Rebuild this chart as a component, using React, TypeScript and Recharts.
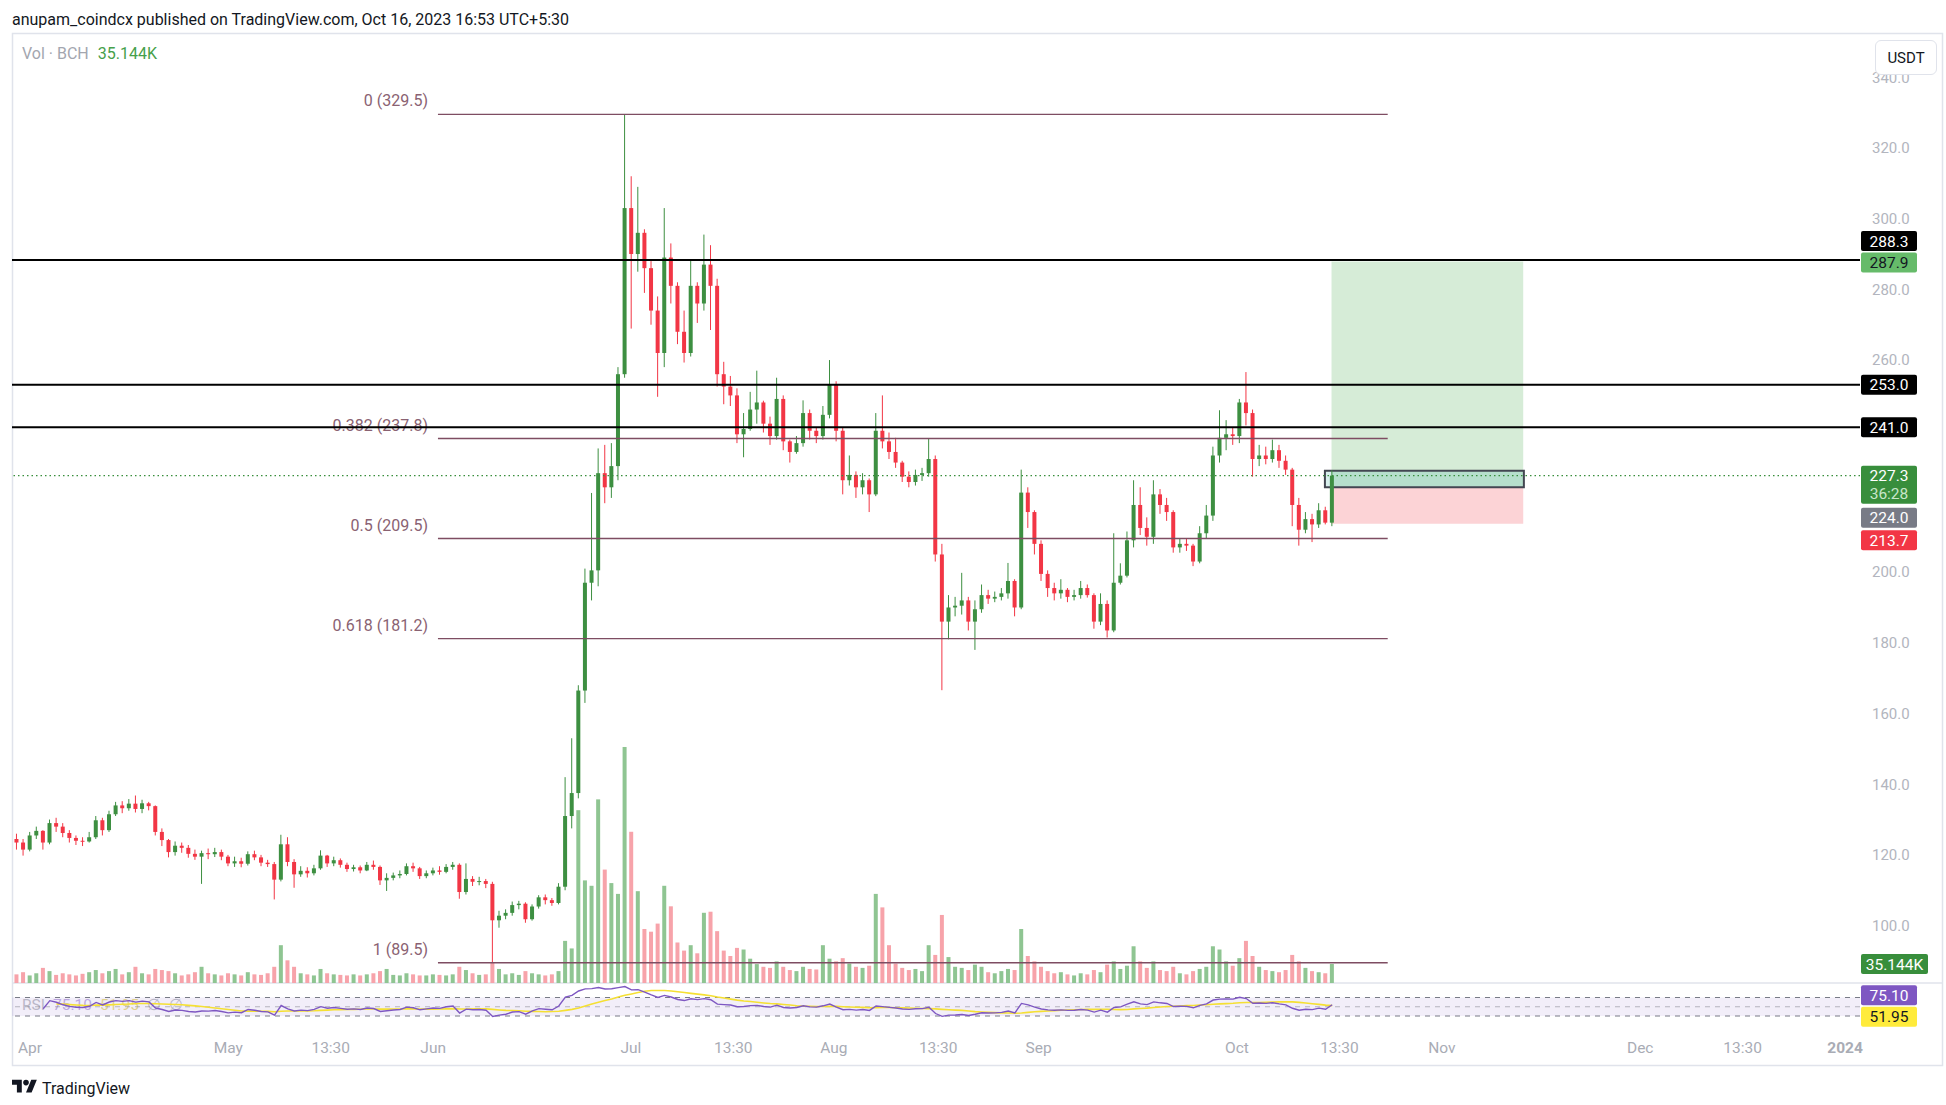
import React from "react";
import { ComposedChart, Bar, Line, XAxis, YAxis, ReferenceLine, ReferenceArea } from "recharts";

// canvas geometry (page pixels)
const W = 1946;
const PLOT_LEFT = 12;
const AXIS_W = 86;
const PRICE_TOP = 33;
const PRICE_H = 983;
const RSI_TOP = 983;
const RSI_H = 83;

const FONT = "Roboto, 'Noto Sans', Arial, sans-serif";
const UP = "#3d8f41";
const DOWN = "#f23645";
const VOL_UP = "#8fc592";
const VOL_DOWN = "#f7a3aa";
const AXIS_TEXT = "#b2b5be";
const FIB = "#7e4d62";
const FIB_TEXT = "#8a6272";

// x = day index, 0 = 1 Apr 2023
const X_DOMAIN = [-2.72, 276.85];
const PRICE_DOMAIN = [83.76, 352.53];
const VOL_DOMAIN = [0, 1759];
const RSI_DOMAIN = [-4.6, 101.4];

// ---- data: one candle per day, 30 Mar -> 16 Oct 2023 (BCH/USDT) ----
const FIRST_DAY = -2;
const FIRST_OPEN = 124.5;

const closes = [
  123.5, 121.5, 125.5, 126.8, 123.5, 129, 128, 126.2, 124.8, 124,
  123.8, 125, 129.8, 127, 131.5, 134, 133.2, 134.5, 133, 134.6,
  133.8, 126.5, 124.2, 120.8, 122.6, 122, 120.3, 119.5, 120.5, 120.2,
  120.8, 119.5, 117.6, 118.2, 117.5, 120.2, 119.3, 117.8, 117.4, 113,
  123, 118, 114.5, 115.5, 114.8, 116.2, 119.8, 117.6, 118.5, 117.2,
  116, 116.5, 115.6, 117.2, 116.6, 112.8, 113.5, 114.2, 114.6, 116.8,
  116.2, 114, 114.8, 115.6, 115.2, 116.6, 117.2, 109.5, 113.2, 112.4,
  112.6, 111.8, 101.5, 102.8, 103.6, 105.8, 106.2, 101.8, 105.4, 108,
  107.2, 106.4, 111, 131, 137.5, 166.5, 197, 200.5, 228, 224,
  230, 256, 303, 290, 296, 286, 274, 262, 289, 281,
  268, 262, 281, 276, 287, 281, 256, 252.5, 250, 239,
  240.5, 246, 248, 242, 238.5, 249, 237, 234, 236.5, 245,
  240, 238.5, 244.5, 253, 240, 226, 227.5, 224, 226, 222,
  240, 237, 234, 231, 227, 225.5, 227.5, 228, 232, 205,
  186, 190, 190.5, 192, 186, 189.5, 193.5, 192.5, 193, 194,
  197.5, 190, 222.5, 217, 208, 199.5, 195.5, 194, 195, 193,
  193.5, 195.5, 193.5, 186, 191, 183.5, 197, 199, 209, 219,
  212.5, 210, 222, 219, 217, 207, 208, 207.5, 203, 211,
  216, 233, 238, 239, 238.5, 248, 245, 232, 233, 232,
  234.5, 231.5, 229, 219, 212, 215, 213.5, 217.5, 214, 227.3,
];

const highs = [
  126, 124.5, 126.5, 128, 127, 130, 130.5, 129, 127, 125.5,
  125, 126.5, 131, 130.5, 132.5, 135, 135.2, 135.8, 136.8, 135.6,
  135, 134, 127.5, 124.5, 123.8, 123.5, 122.8, 121.5, 121.2, 121.8,
  122, 121.5, 120, 119.5, 119.2, 121, 121.2, 120, 118.6, 118,
  125.7, 125, 118.8, 116.8, 116.5, 117.2, 121.3, 120, 119.5, 119,
  117.8, 117.2, 117, 118, 118.4, 117, 114.8, 115, 115.6, 117.6,
  117.8, 116.6, 115.6, 116.4, 116.8, 117.4, 118, 117.6, 117.6, 114,
  113.8, 113.2, 112.4, 104.2, 104.6, 106.8, 107, 106.6, 106, 108.6,
  108.8, 107.8, 112, 142, 153, 168, 201, 222.4, 235, 236,
  236.5, 258, 329.5, 312, 309, 297, 288, 278, 303, 293,
  282, 274, 288.2, 282, 295.5, 292.5, 283, 259.5, 255.5, 252,
  245, 251, 257, 248.5, 244, 255, 250, 237.5, 238.5, 248.6,
  246, 241, 247, 260, 254, 241, 233, 228.5, 228, 226.5,
  245, 250, 239.5, 238, 231.5, 228.5, 229, 229.5, 237.7, 233,
  208, 193.5, 193, 199.8, 193, 192, 196.5, 195, 194.5, 195.5,
  202.6, 198, 229, 224, 217.5, 209, 200.5, 197, 198, 195.5,
  195, 197.5, 196.5, 194, 194, 192, 211, 202.5, 211.5, 226,
  224, 215.5, 226, 223.5, 221, 217.5, 209.5, 209.5, 208, 213,
  219, 235.5, 245.8, 243, 241, 249, 256.6, 246, 236, 235.5,
  237.5, 236, 233, 229.5, 221, 217, 216.5, 219.5, 218.5, 228.8,
];

const lows = [
  121.5, 119.8, 121, 124.5, 121.5, 123, 126.5, 125, 123.5, 122.8,
  122.5, 123.5, 124.5, 125.5, 126.5, 131, 131.8, 132.5, 132, 131.8,
  132.6, 125.5, 122.5, 119.3, 119.8, 120.6, 119.2, 118.6, 111.8, 118.8,
  119.4, 118.5, 116.8, 116.6, 116.5, 117, 118.5, 116.8, 116.6, 107.4,
  112.5, 116.8, 110.7, 113.8, 113.6, 114.2, 115.8, 116.6, 116.8, 116.4,
  115.2, 115.3, 114.8, 115.4, 115.8, 111.5, 109.8, 112.8, 113.4, 114.2,
  115.2, 113.2, 113.4, 114.2, 114.4, 114.8, 115.8, 107.6, 108.8, 111.2,
  111.4, 110.6, 89.5, 99.4, 101.8, 102.8, 104.6, 100.8, 101.4, 104.8,
  106, 105.6, 106, 110, 127.5, 136, 163, 192, 196, 219.5,
  221, 226, 255, 268.9, 285, 279, 270, 249.6, 258, 276,
  264.5, 259.3, 261, 270.5, 274, 268.5, 252.5, 247.5, 247, 236.5,
  232.5, 240, 242, 239.5, 236, 237.5, 234.5, 231, 233.5, 235.5,
  237.5, 236.5, 237.5, 243.5, 237, 222, 224.5, 221, 222, 217,
  221.5, 235, 232, 229.5, 225.5, 224, 224.5, 225.8, 227, 203,
  166.6, 181, 187.5, 188, 183.5, 178, 188.5, 191, 191.5, 192,
  192.5, 187.5, 189.5, 212.5, 205, 197.5, 193, 192, 192.5, 191.5,
  192, 192.5, 192.8, 184, 185, 181.5, 183, 196.5, 198.5, 207,
  210.5, 207.5, 208, 216.5, 214.5, 205.5, 205.5, 206, 201.7, 202.5,
  209.5, 214.5, 231, 234.5, 236, 236.5, 241.5, 227, 230, 230.5,
  231, 229.5, 227.5, 213, 207.5, 211, 208.5, 212.5, 213.5, 213,
];

// volume, thousands of BCH
const volumesK = [
  16, 20, 14, 18, 28, 22, 15, 18, 16, 14,
  17, 20, 24, 18, 22, 26, 16, 20, 30, 18,
  16, 26, 24, 22, 18, 14, 16, 20, 30, 18,
  16, 14, 18, 16, 14, 20, 16, 15, 18, 30,
  70, 42, 30, 18, 16, 14, 26, 18, 16, 15,
  14, 16, 14, 16, 18, 22, 26, 15, 14, 18,
  16, 14, 14, 16, 15, 14, 16, 30, 24, 18,
  15, 16, 38, 26, 16, 18, 15, 22, 18, 16,
  14, 16, 22, 78, 64, 320, 190, 180, 340, 210,
  185, 165, 437, 280, 170, 100, 95, 110, 180, 142,
  75, 60, 70, 55, 130, 132, 96, 60, 50, 65,
  62, 45, 35, 30, 28, 40, 30, 24, 22, 30,
  26, 25, 70, 45, 40, 46, 36, 30, 28, 32,
  165, 140, 70, 36, 28, 24, 26, 22, 70, 52,
  126, 48, 30, 28, 24, 34, 30, 20, 18, 22,
  26, 24, 100, 50, 40, 30, 22, 18, 20, 16,
  14, 18, 16, 24, 20, 34, 40, 26, 32, 68,
  40, 28, 40, 24, 22, 30, 18, 16, 22, 26,
  30, 68, 62, 40, 32, 46, 78, 50, 30, 24,
  22, 20, 24, 52, 40, 28, 22, 20, 18, 35.144,
];

// 220.0 and 240.0 sit under the price tags in the original, so they are not drawn
const priceTicks = [100, 120, 140, 160, 180, 200, 260, 280, 300, 320, 340];
const timeTicks = [0, 30, 45.5, 61, 90.9, 106.4, 121.6, 137.4, 152.6, 182.6, 198.1, 213.6, 243.6, 259.1, 274.6];
const timeLabels = ["Apr", "May", "13:30", "Jun", "Jul", "13:30", "Aug", "13:30", "Sep", "Oct", "13:30", "Nov", "Dec", "13:30", "2024"];

const levelPrices = [288.3, 253.0, 241.0];
const fibRatios = ["0", "0.382", "0.5", "0.618", "1"];
const fibPrices = [329.5, 237.8, 209.5, 181.2, 89.5];
const fibSpan = [61.72, 205.4];

const lastPrice = 227.3;
const entryPrice = 224.0;
const targetPrice = 287.9;
const stopPrice = 213.7;
const positionSpan = [196.9, 225.9];
const progressBox = [195.9, 226.0, 224.0, 228.7];

const rsiLast = 75.1;
const rsiMaLast = 51.95;
const lastVolK = 35.144;

// RSI(14) of the closes and its 14-bar SMA
function rsiOf(src: number[], len: number): (number | null)[] {
  const out: (number | null)[] = [];
  let ag = 0;
  let al = 0;
  for (let i = 0; i < src.length; i++) {
    const prev = i === 0 ? FIRST_OPEN : src[i - 1];
    const ch = src[i] - prev;
    const g = Math.max(ch, 0);
    const l = Math.max(-ch, 0);
    const n = Math.min(i + 1, len);
    ag = (ag * (n - 1) + g) / n;
    al = (al * (n - 1) + l) / n;
    const v = al === 0 ? 100 : 100 - 100 / (1 + ag / al);
    out.push(i < 4 ? null : v);
  }
  return out;
}
function smaOf(src: (number | null)[], len: number): (number | null)[] {
  return src.map((_, i) => {
    const win = src.slice(Math.max(0, i - len + 1), i + 1).filter((v): v is number => v != null);
    return win.length < 3 ? null : win.reduce((a, b) => a + b, 0) / win.length;
  });
}

const rsiVals = rsiOf(closes, 14);
const rsiMa = smaOf(rsiVals, 14);

const rows = closes.map((c, i) => {
  const o = i === 0 ? FIRST_OPEN : closes[i - 1];
  const h = Math.max(highs[i], o, c);
  const l = Math.min(lows[i], o, c);
  return {
    x: FIRST_DAY + i,
    o,
    c,
    h,
    l,
    range: [l, h],
    vol: volumesK[i],
    up: c >= o,
    rsi: rsiVals[i],
    ma: rsiMa[i],
  };
});

// ---- shapes ----
const Candle = (p: any) => {
  const { x, y, width, height, payload } = p;
  if (height == null || !payload) return null;
  const top = Math.min(y, y + height);
  const hh = Math.abs(height);
  const span = payload.h - payload.l;
  const k = span > 0 ? hh / span : 0;
  const bTop = top + (payload.h - Math.max(payload.o, payload.c)) * k;
  const bBot = top + (payload.h - Math.min(payload.o, payload.c)) * k;
  const col = payload.up ? UP : DOWN;
  const cx = x + width / 2;
  return (
    <g>
      <line x1={cx} x2={cx} y1={top} y2={top + hh} stroke={col} strokeWidth={1} />
      <rect x={x} y={bTop} width={width} height={Math.max(1, bBot - bTop)} fill={col} />
    </g>
  );
};

const VolBar = (p: any) => {
  const { x, y, width, height, payload } = p;
  if (height == null || !payload) return null;
  return <rect x={x} y={Math.min(y, y + height)} width={width} height={Math.abs(height)} fill={payload.up ? VOL_UP : VOL_DOWN} />;
};

type TagOpts = { bg: string; fg: string; dy?: number; w?: number; sub?: string; subFg?: string };
function axisTag(text: string, o: TagOpts) {
  return (props: any) => {
    const vb = props.viewBox;
    if (!vb) return null;
    const x = vb.x + vb.width + 1;
    const cy = vb.y + (o.dy ?? 0);
    const w = o.w ?? 56;
    const h = o.sub ? 38 : 20;
    return (
      <g>
        <rect x={x} y={cy - 10} width={w} height={h} rx={2} fill={o.bg} />
        <text x={x + w / 2} y={cy + 5.5} textAnchor="middle" fontSize={15.5} fill={o.fg} fontFamily={FONT}>
          {text}
        </text>
        {o.sub ? (
          <text x={x + w / 2} y={cy + 23.5} textAnchor="middle" fontSize={15.5} fill={o.subFg} fontFamily={FONT}>
            {o.sub}
          </text>
        ) : null}
      </g>
    );
  };
}

function fibLabel(text: string) {
  return (props: any) => {
    const vb = props.viewBox;
    if (!vb) return null;
    return (
      <text x={vb.x - 10} y={vb.y - 8} textAnchor="end" fontSize={16} fill={FIB_TEXT} fontFamily={FONT}>
        {text}
      </text>
    );
  };
}

const TimeTick = (p: any) => {
  const idx = timeTicks.indexOf(p.payload?.value);
  const label = idx >= 0 ? timeLabels[idx] : "";
  return (
    <text
      x={p.x}
      y={p.y}
      dy={13}
      textAnchor="middle"
      fontSize={15.5}
      fill="#a9acb5"
      fontWeight={label === "2024" ? 700 : 400}
      fontFamily={FONT}
    >
      {label}
    </text>
  );
};

const layer = (top: number, z: number): React.CSSProperties => ({ position: "absolute", left: 0, top, zIndex: z });

export default function App() {
  return (
    <div style={{ position: "absolute", left: 0, top: 0, width: W, height: 1105, background: "#fff", fontFamily: FONT, overflow: "hidden" }}>
      {/* frame, header, legends */}
      <svg width={W} height={1105} style={layer(0, 0)}>
        <text x={12} y={25} fontSize={16} fill="#131722" fontFamily={FONT}>
          anupam_coindcx published on TradingView.com, Oct 16, 2023 16:53 UTC+5:30
        </text>
        <rect x={12.5} y={33.5} width={1930} height={1032} fill="none" stroke="#e0e3eb" strokeWidth={1.5} />
        <line x1={12} x2={1943} y1={983} y2={983} stroke="#e0e3eb" strokeWidth={1.5} />
        <text x={22} y={59} fontSize={16} fontFamily={FONT}>
          <tspan fill="#a3a6af">Vol · BCH</tspan>
          <tspan dx={9} fill="#46a04a">35.144K</tspan>
        </text>
        <text x={22} y={1010} fontSize={15.5} fontFamily={FONT} opacity={0.45}>
          <tspan fill="#787b86">RSI</tspan>
          <tspan dx={8} fill="#7e57c2">75.10</tspan>
          <tspan dx={8} fill="#d4bb00">51.95</tspan>
          <tspan dx={8} fill="#787b86">∅</tspan>
          <tspan dx={8} fill="#787b86">∅</tspan>
        </text>
        <g transform="translate(12,1077) scale(0.7)" fill="#131722">
          <path d="M14 22H7V11H0V4h14v18ZM28 22h-8l7.5-18h8L28 22Z" />
          <circle cx={20} cy={8} r={4} />
        </g>
        <text x={42} y={1094} fontSize={16} fill="#131722" fontFamily={FONT}>
          TradingView
        </text>
      </svg>

      {/* volume overlay */}
      <div style={layer(0, 1)}>
        <ComposedChart width={W} height={PRICE_H} data={rows} margin={{ top: PRICE_TOP, right: 0, bottom: 0, left: PLOT_LEFT }}>
          <XAxis dataKey="x" type="number" domain={X_DOMAIN} allowDataOverflow hide />
          <YAxis yAxisId="vol" orientation="right" width={AXIS_W} domain={VOL_DOMAIN} allowDataOverflow tick={false} axisLine={false} tickLine={false} />
          <Bar yAxisId="vol" dataKey="vol" barSize={4} shape={VolBar} isAnimationActive={false} />
          <ReferenceLine
            yAxisId="vol"
            y={lastVolK}
            stroke="none"
            label={axisTag("35.144K", { bg: "#388e3c", fg: "#ffffff", w: 67 })}
          />
        </ComposedChart>
      </div>

      {/* price pane */}
      <div style={layer(0, 2)}>
        <ComposedChart width={W} height={PRICE_H} data={rows} margin={{ top: PRICE_TOP, right: 0, bottom: 0, left: PLOT_LEFT }}>
          <XAxis dataKey="x" type="number" domain={X_DOMAIN} allowDataOverflow hide />
          <YAxis
            yAxisId="price"
            orientation="right"
            width={AXIS_W}
            domain={PRICE_DOMAIN}
            allowDataOverflow
            ticks={priceTicks}
            interval={0}
            tickFormatter={(v: number) => v.toFixed(1)}
            tick={{ fontSize: 15, fill: AXIS_TEXT, fontFamily: FONT }}
            tickMargin={6}
            axisLine={false}
            tickLine={false}
          />

          <ReferenceArea yAxisId="price" x1={positionSpan[0]} x2={positionSpan[1]} y1={entryPrice} y2={targetPrice} fill="#4caf50" fillOpacity={0.23} stroke="none" />
          <ReferenceArea yAxisId="price" x1={positionSpan[0]} x2={positionSpan[1]} y1={stopPrice} y2={entryPrice} fill="#f23645" fillOpacity={0.22} stroke="none" />
          <ReferenceArea
            yAxisId="price"
            x1={progressBox[0]}
            x2={progressBox[1]}
            y1={progressBox[2]}
            y2={progressBox[3]}
            fill="#26a69a"
            fillOpacity={0.18}
            stroke="#434651"
            strokeWidth={2}
          />

          {fibPrices.map((p, i) => (
            <ReferenceLine
              key={`fib-${i}`}
              yAxisId="price"
              segment={[
                { x: fibSpan[0], y: p },
                { x: fibSpan[1], y: p },
              ]}
              stroke={FIB}
              strokeWidth={1.4}
              label={fibLabel(`${fibRatios[i]} (${p.toFixed(1)})`)}
            />
          ))}

          <ReferenceLine yAxisId="price" y={lastPrice} stroke="#388e3c" strokeWidth={1.2} strokeDasharray="1.5 3" />

          <Bar yAxisId="price" dataKey="range" barSize={4} shape={Candle} isAnimationActive={false} />

          <ReferenceLine yAxisId="price" y={levelPrices[0]} stroke="#000" strokeWidth={2} label={axisTag("288.3", { bg: "#000", fg: "#fff", dy: -19 })} />
          <ReferenceLine yAxisId="price" y={levelPrices[1]} stroke="#000" strokeWidth={2} label={axisTag("253.0", { bg: "#000", fg: "#fff" })} />
          <ReferenceLine yAxisId="price" y={levelPrices[2]} stroke="#000" strokeWidth={2} label={axisTag("241.0", { bg: "#000", fg: "#fff" })} />
          <ReferenceLine yAxisId="price" y={targetPrice} stroke="none" label={axisTag("287.9", { bg: "#66bb6a", fg: "#131722", dy: 1 })} />
          <ReferenceLine yAxisId="price" y={lastPrice} stroke="none" label={axisTag("227.3", { bg: "#388e3c", fg: "#fff", sub: "36:28", subFg: "#c8e6c9" })} />
          <ReferenceLine yAxisId="price" y={entryPrice} stroke="none" label={axisTag("224.0", { bg: "#787b86", fg: "#fff", dy: 30.5 })} />
          <ReferenceLine yAxisId="price" y={stopPrice} stroke="none" label={axisTag("213.7", { bg: "#f23645", fg: "#fff", dy: 16.6 })} />
        </ComposedChart>
      </div>

      {/* RSI pane + time axis */}
      <div style={layer(RSI_TOP, 2)}>
        <ComposedChart width={W} height={RSI_H} data={rows} margin={{ top: 0, right: 0, bottom: 0, left: PLOT_LEFT }}>
          <XAxis
            dataKey="x"
            type="number"
            domain={X_DOMAIN}
            allowDataOverflow
            ticks={timeTicks}
            interval={0}
            height={34}
            axisLine={false}
            tickLine={false}
            tick={TimeTick}
          />
          <YAxis yAxisId="rsi" orientation="right" width={AXIS_W} domain={RSI_DOMAIN} allowDataOverflow tick={false} axisLine={false} tickLine={false} />
          <ReferenceArea yAxisId="rsi" y1={30} y2={70} fill="#7e57c2" fillOpacity={0.1} stroke="none" />
          <ReferenceLine yAxisId="rsi" y={70} stroke="#787b86" strokeDasharray="5 5" />
          <ReferenceLine yAxisId="rsi" y={50} stroke="#787b86" strokeOpacity={0.5} strokeDasharray="5 5" />
          <ReferenceLine yAxisId="rsi" y={30} stroke="#787b86" strokeDasharray="5 5" />
          <Line yAxisId="rsi" dataKey="ma" stroke="#f5e033" strokeWidth={1.6} dot={false} isAnimationActive={false} />
          <Line yAxisId="rsi" dataKey="rsi" stroke="#7e57c2" strokeWidth={1.4} dot={false} isAnimationActive={false} />
          <ReferenceLine yAxisId="rsi" y={rsiLast} stroke="none" label={axisTag("75.10", { bg: "#7e57c2", fg: "#fff" })} />
          <ReferenceLine yAxisId="rsi" y={rsiMaLast} stroke="none" label={axisTag("51.95", { bg: "#ffeb3b", fg: "#131722", dy: 11 })} />
        </ComposedChart>
      </div>

      {/* currency button over the price scale */}
      <div
        style={{
          position: "absolute",
          left: 1875,
          top: 40,
          width: 60,
          height: 33,
          zIndex: 3,
          background: "#fff",
          border: "1px solid #e0e3eb",
          borderRadius: 6,
          fontSize: 15,
          color: "#131722",
          display: "flex",
          alignItems: "center",
          justifyContent: "center",
          fontFamily: FONT,
        }}
      >
        USDT
      </div>
    </div>
  );
}
